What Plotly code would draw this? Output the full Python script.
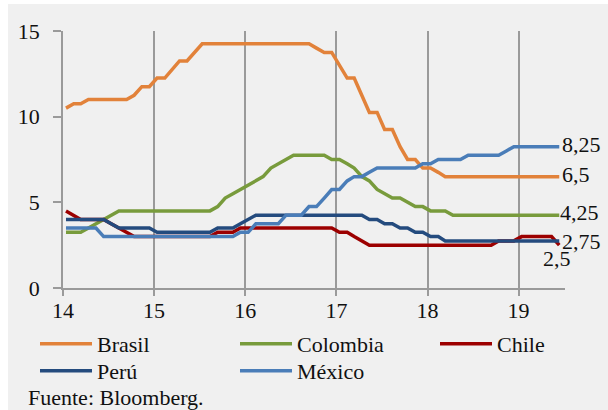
import plotly.graph_objects as go
import pandas as pd

# Monthly policy rates, Jan 2014 - Jun 2019
months = pd.date_range("2014-01-01", periods=66, freq="MS") + pd.Timedelta(days=12)

brasil = ([10.5, 10.75, 10.75] + [11.0] * 6 + [11.25, 11.75, 11.75, 12.25, 12.25, 12.75,
          13.25, 13.25, 13.75] + [14.25] * 15 + [14.0, 13.75, 13.75, 13.0, 12.25, 12.25,
          11.25, 10.25, 10.25, 9.25, 9.25, 8.25, 7.5, 7.5, 7.0, 7.0, 6.75] + [6.5] * 16)
colombia = ([3.25] * 3 + [3.5, 3.75, 4.0, 4.25] + [4.5] * 13 + [4.75, 5.25, 5.5, 5.75, 6.0,
            6.25, 6.5, 7.0, 7.25, 7.5] + [7.75] * 5 + [7.5, 7.5, 7.25, 7.0, 6.5, 6.25, 5.75,
            5.5, 5.25, 5.25, 5.0, 4.75, 4.75, 4.5, 4.5, 4.5] + [4.25] * 15)
chile = ([4.5, 4.25] + [4.0] * 4 + [3.75, 3.5, 3.25] + [3.0] * 11 + [3.25] * 3 + [3.5] * 13 +
         [3.25, 3.25, 3.0, 2.75] + [2.5] * 17 + [2.75] * 3 + [3.0] * 5 + [2.5])
peru = ([4.0] * 6 + [3.75] + [3.5] * 5 + [3.25] * 8 + [3.5] * 3 + [3.75, 4.0] + [4.25] * 15 +
        [4.0, 4.0, 3.75, 3.75, 3.5, 3.5, 3.25, 3.25, 3.0, 3.0] + [2.75] * 16)
mexico = ([3.5] * 5 + [3.0] * 18 + [3.25] * 2 + [3.75] * 4 + [4.25] * 3 + [4.75] * 2 + [5.25] +
          [5.75] * 2 + [6.25] + [6.5] * 2 + [6.75] + [7.0] * 6 + [7.25] * 2 + [7.5] * 4 +
          [7.75] * 5 + [8.0] + [8.25] * 7)

series_names = ["Brasil", "Colombia", "Chile", "Perú", "México"]
series_values = [brasil, colombia, chile, peru, mexico]
series_colors = ["#E2823A", "#789B3C", "#9C0000", "#244B7E", "#4A7DB8"]
series_legend = ["legend", "legend2", "legend3", "legend4", "legend5"]
legend_col = [0, 1, 2, 0, 1]
legend_row = [0, 0, 0, 1, 1]
label_yshift = [2, 3, -13, -1, 2]
label_xanchor = ["left", "left", "center", "left", "left"]
label_xshift = [1, -1, -2, 1, 1]

y_ticks = [0, 5, 10, 15]
source_text = "Fuente: Bloomberg."

FONT = "Liberation Serif"
FS = 22
W, H = 608, 410
ML, MR, MT, MB = 63, 43, 31, 122
pw, ph = W - ML - MR, H - MT - MB

fig = go.Figure()
for name, vals, col, lg in zip(series_names, series_values, series_colors, series_legend):
    fig.add_trace(go.Scatter(x=months, y=vals, mode="lines", name=name, legend=lg,
                             line=dict(color=col, width=3.5)))

# end labels
for vals, xa, xs, ys in zip(series_values, label_xanchor, label_xshift, label_yshift):
    txt = f"{vals[-1]:g}".replace(".", ",")
    fig.add_annotation(x=months[-1], y=vals[-1], text=txt, showarrow=False,
                       xanchor=xa, yanchor="middle", xshift=xs, yshift=ys,
                       font=dict(family=FONT, size=FS, color="#111"))

fig.add_annotation(xref="paper", yref="paper", x=(26 - ML) / pw, y=(MT + ph - 397) / ph,
                   xanchor="left", yanchor="middle", text=source_text, showarrow=False,
                   font=dict(family=FONT, size=FS, color="#111"))

# grey panel
fig.add_shape(type="rect", xref="paper", yref="paper", layer="below",
              x0=(8 - ML) / pw, x1=(W + 5 - ML) / pw,
              y0=(MT + ph - (H + 5)) / ph, y1=(MT + ph - 4) / ph,
              line=dict(width=0), fillcolor="#f0f0f0")

legend_common = dict(orientation="v", xref="container", yref="container",
                     xanchor="left", yanchor="top", itemwidth=52,
                     bgcolor="rgba(0,0,0,0)", tracegroupgap=0,
                     font=dict(family=FONT, size=FS, color="#111"))
legends = {}
for lg, c, r in zip(series_legend, legend_col, legend_row):
    legends[lg] = dict(x=(35 + 200 * c) / W, y=1 - (323 + 27 * r) / H, **legend_common)

fig.update_layout(
    width=W, height=H,
    margin=dict(l=ML, r=MR, t=MT, b=MB, autoexpand=False),
    paper_bgcolor="white", plot_bgcolor="rgba(0,0,0,0)",
    font=dict(family=FONT, size=FS, color="#111"),
    showlegend=True,
    **legends,
)
fig.update_xaxes(type="date", range=["2014-01-01", "2019-07-06"], tick0="2014-01-01",
                 dtick="M12", tickformat="%y", showgrid=True, gridcolor="#9a9a9a",
                 gridwidth=1.5, showline=True, linecolor="#9a9a9a", linewidth=1.5,
                 ticks="outside", ticklen=6, tickwidth=1.5, tickcolor="#9a9a9a",
                 ticklabelstandoff=-4, zeroline=False)
fig.update_yaxes(range=[0, 15], tickvals=y_ticks, showgrid=False, showline=True,
                 linecolor="#9a9a9a", linewidth=1.5, ticks="outside", ticklen=8,
                 tickwidth=1.5, tickcolor="#9a9a9a", ticklabelstandoff=9, zeroline=False)

fig.write_html("out.html")
